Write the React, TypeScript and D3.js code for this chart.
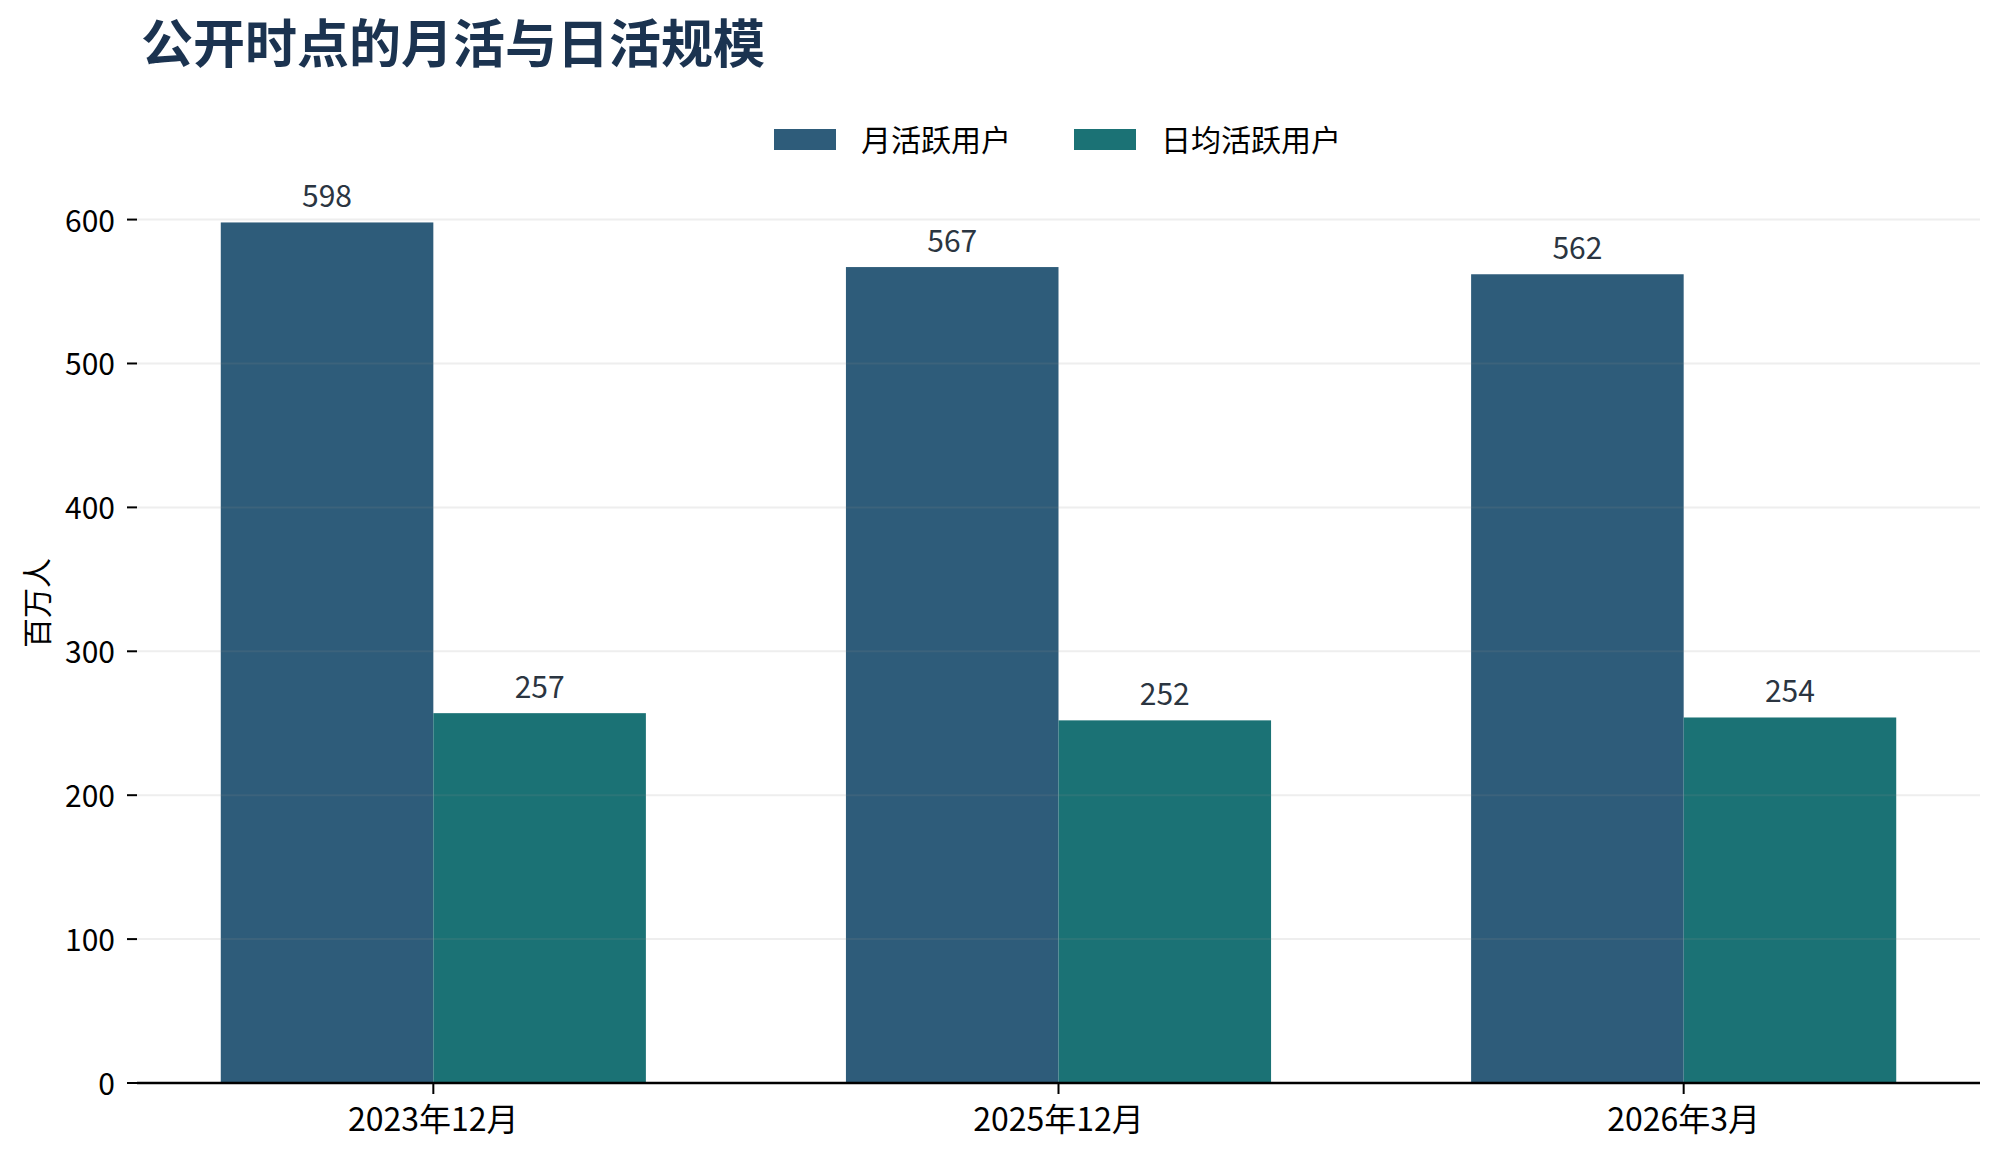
import * as d3 from "d3";
import { useEffect, useRef } from "react";

const WIDTH = 2001;
const HEIGHT = 1159;
const MARGIN = { top: 180, right: 21, bottom: 76, left: 137 };
const FONT = '"Noto Sans CJK SC", "Noto Sans", sans-serif';

const TITLE = "公开时点的月活与日活规模";
const Y_LABEL = "百万人";
const PERIODS = ["2023年12月", "2025年12月", "2026年3月"];
const SERIES = ["月活跃用户", "日均活跃用户"];
const MAU = [598, 567, 562];
const DAU = [257, 252, 254];
const Y_TICKS = [0, 100, 200, 300, 400, 500, 600];
const COLORS = ["#2e5c7a", "#1b7275"];

const BAR_W = 0.34;

export default function App() {
  const ref = useRef<SVGSVGElement>(null);

  useEffect(() => {
    const svg = d3.select(ref.current);
    svg.selectAll("*").remove();
    const innerW = WIDTH - MARGIN.left - MARGIN.right;
    const innerH = HEIGHT - MARGIN.top - MARGIN.bottom;
    const g = svg.append("g").attr("transform", `translate(${MARGIN.left},${MARGIN.top})`);

    // matplotlib-like auto margins around the bar extent
    const lo = -BAR_W;
    const hi = PERIODS.length - 1 + BAR_W;
    const pad = (hi - lo) * 0.05;
    const x = d3.scaleLinear().domain([lo - pad, hi + pad]).range([0, innerW]);
    const y = d3.scaleLinear().domain([0, 627.5]).range([innerH, 0]);

    const series = [MAU, DAU];

    // bars
    series.forEach((vals, s) => {
      g.append("g")
        .selectAll("rect")
        .data(vals)
        .join("rect")
        .attr("x", (_, i) => x(i + (s === 0 ? -BAR_W : 0)))
        .attr("width", x(BAR_W) - x(0))
        .attr("y", (d) => y(d))
        .attr("height", (d) => innerH - y(d))
        .attr("fill", COLORS[s]);
    });

    // grid over the bars, faint
    g.append("g")
      .selectAll("line")
      .data(Y_TICKS.filter((t) => t > 0))
      .join("line")
      .attr("x1", 0)
      .attr("x2", innerW)
      .attr("y1", (d) => y(d))
      .attr("y2", (d) => y(d))
      .attr("stroke", "#8c8c8c")
      .attr("stroke-opacity", 0.15)
      .attr("stroke-width", 2);

    // value labels
    series.forEach((vals, s) => {
      g.append("g")
        .selectAll("text")
        .data(vals)
        .join("text")
        .attr("x", (_, i) => x(i + (s === 0 ? -BAR_W / 2 : BAR_W / 2)))
        .attr("y", (d) => y(d) - 15)
        .attr("text-anchor", "middle")
        .attr("font-family", FONT)
        .attr("font-size", 30)
        .attr("fill", "#2b3541")
        .text((d) => d);
    });

    // y ticks + labels (no spine)
    const yAxis = g.append("g");
    yAxis
      .selectAll("line")
      .data(Y_TICKS)
      .join("line")
      .attr("x1", -10)
      .attr("x2", 0)
      .attr("y1", (d) => y(d))
      .attr("y2", (d) => y(d))
      .attr("stroke", "#000")
      .attr("stroke-width", 2);
    yAxis
      .selectAll("text")
      .data(Y_TICKS)
      .join("text")
      .attr("x", -22)
      .attr("y", (d) => y(d) + 12)
      .attr("text-anchor", "end")
      .attr("font-family", FONT)
      .attr("font-size", 30)
      .attr("fill", "#000")
      .text((d) => d);

    // x spine, ticks, labels
    g.append("line")
      .attr("x1", 0)
      .attr("x2", innerW)
      .attr("y1", innerH)
      .attr("y2", innerH)
      .attr("stroke", "#000")
      .attr("stroke-width", 2.5);
    const xAxis = g.append("g");
    xAxis
      .selectAll("line")
      .data(PERIODS)
      .join("line")
      .attr("x1", (_, i) => x(i))
      .attr("x2", (_, i) => x(i))
      .attr("y1", innerH)
      .attr("y2", innerH + 11)
      .attr("stroke", "#000")
      .attr("stroke-width", 2);
    xAxis
      .selectAll("text")
      .data(PERIODS)
      .join("text")
      .attr("x", (_, i) => x(i))
      .attr("y", innerH + 48)
      .attr("text-anchor", "middle")
      .attr("font-family", FONT)
      .attr("font-size", 32)
      .attr("fill", "#000")
      .text((d) => d);

    // y label
    svg
      .append("text")
      .attr("transform", "translate(48,603) rotate(-90)")
      .attr("text-anchor", "middle")
      .attr("font-family", FONT)
      .attr("font-size", 30)
      .attr("fill", "#000")
      .text(Y_LABEL);

    // legend
    const legendX = [774, 1074];
    const legend = svg.append("g");
    SERIES.forEach((name, s) => {
      legend
        .append("rect")
        .attr("x", legendX[s])
        .attr("y", 129)
        .attr("width", 62)
        .attr("height", 21)
        .attr("fill", COLORS[s]);
      legend
        .append("text")
        .attr("x", legendX[s] + 87)
        .attr("y", 151)
        .attr("font-family", FONT)
        .attr("font-size", 30)
        .attr("fill", "#000")
        .text(name);
    });

    // title
    svg
      .append("text")
      .attr("x", 141)
      .attr("y", 63)
      .attr("font-family", FONT)
      .attr("font-size", 52)
      .attr("font-weight", 700)
      .attr("fill", "#1b3350")
      .text(TITLE);
  }, []);

  return (
    <svg
      ref={ref}
      width={WIDTH}
      height={HEIGHT}
      viewBox={`0 0 ${WIDTH} ${HEIGHT}`}
      style={{ position: "absolute", left: 0, top: 0, background: "#fff" }}
      role="img"
      aria-label="公开时点的月活与日活规模"
    />
  );
}
